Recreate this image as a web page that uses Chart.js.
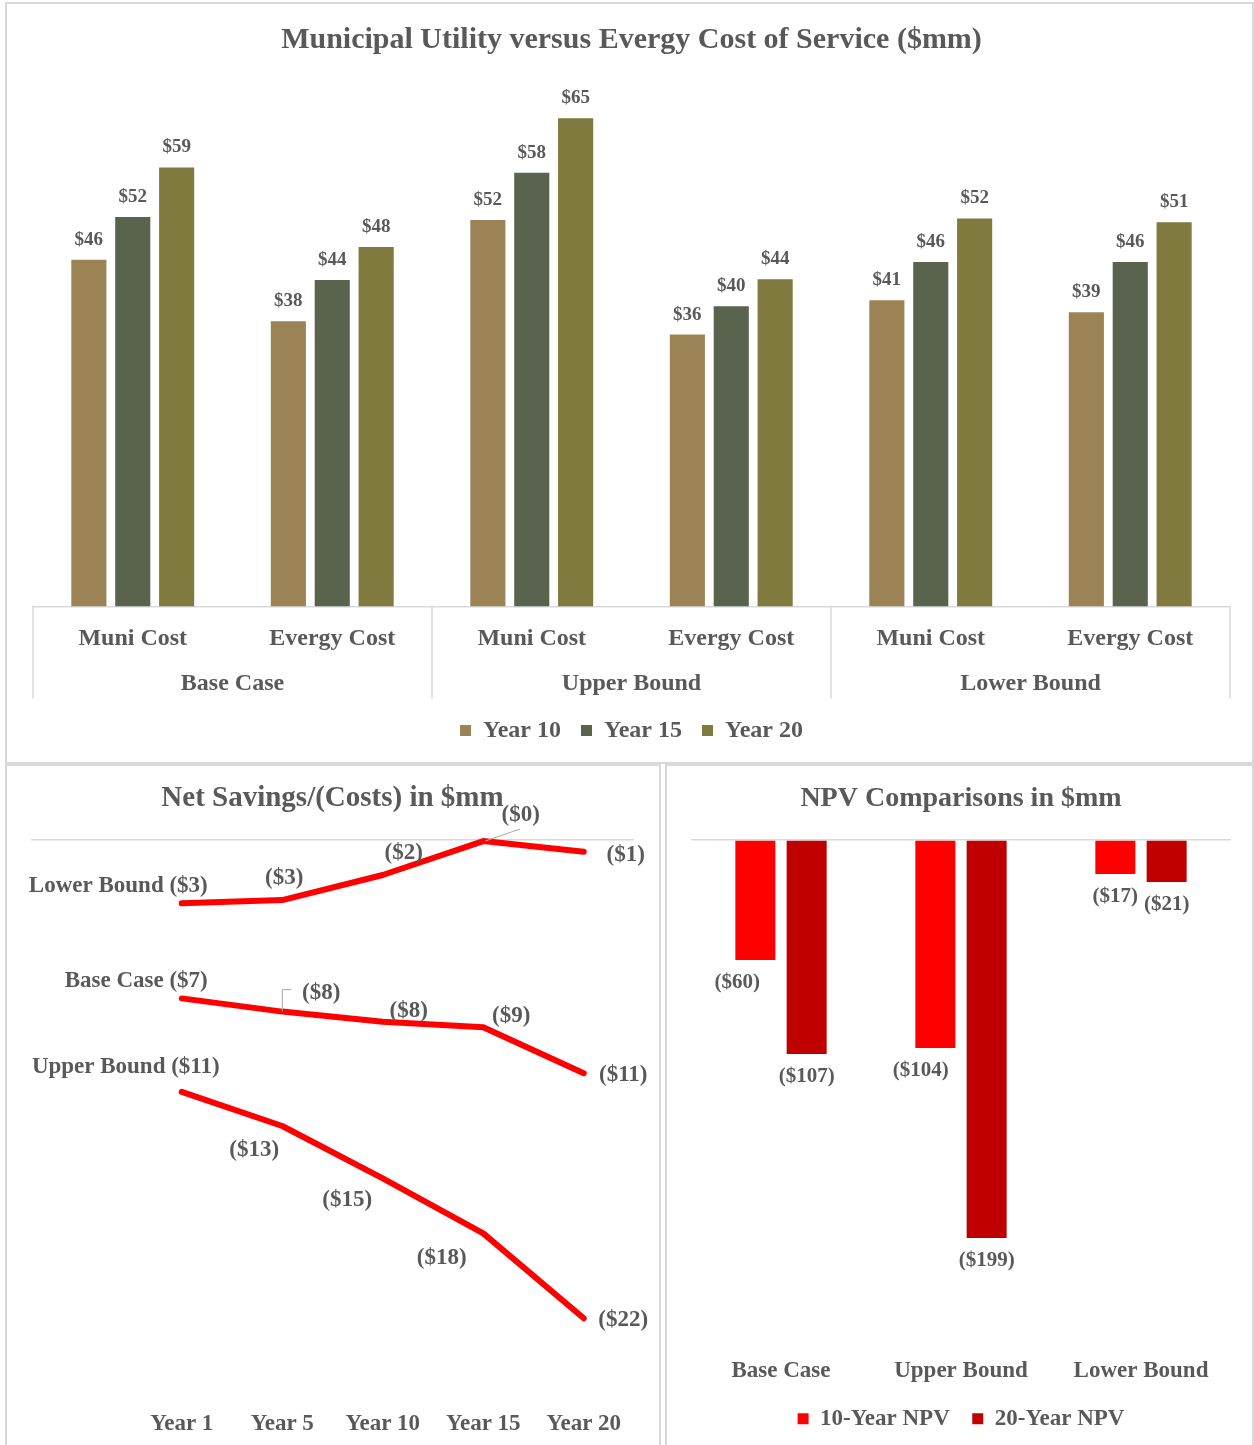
<!DOCTYPE html>
<html><head><meta charset="utf-8">
<script src="https://cdn.jsdelivr.net/npm/chart.js@4/dist/chart.umd.min.js"></script>
<style>
html,body{margin:0;padding:0;background:#fff;width:1254px;height:1445px;overflow:hidden;}
.panel{position:absolute;border:2px solid #d9d9d9;box-sizing:border-box;}
.wrap{position:absolute;}
</style></head><body>
<div class="panel" style="left:5px;top:2px;width:1249px;height:762px"></div>
<div class="panel" style="left:5px;top:764px;width:656px;height:700px"></div>
<div class="panel" style="left:665px;top:764px;width:589px;height:700px"></div>
<div class="wrap" style="left:8px;top:5px;width:1244px;height:757px"><canvas id="c1"></canvas></div>
<div class="wrap" style="left:8px;top:766px;width:651px;height:679px"><canvas id="c2"></canvas></div>
<div class="wrap" style="left:668px;top:766px;width:584px;height:679px"><canvas id="c3"></canvas></div>
<script>
// ---------- DATA ----------
const costCategories = ['Muni Cost','Evergy Cost','Muni Cost','Evergy Cost','Muni Cost','Evergy Cost'];
const scenarioGroups = ['Base Case','Upper Bound','Lower Bound'];
const costSeriesNames = ['Year 10','Year 15','Year 20'];
const year10Cost = [46.3, 38.1, 51.6, 36.3, 40.9, 39.3];
const year15Cost = [52.0, 43.6, 57.9, 40.1, 46.0, 46.0];
const year20Cost = [58.6, 48.0, 65.2, 43.7, 51.8, 51.3];

const savingsYears = ['', 'Year 1', 'Year 5', 'Year 10', 'Year 15', 'Year 20'];
const savingsSeriesNames = ['Lower Bound', 'Base Case', 'Upper Bound'];
const lowerBoundSavings = [null, -2.88, -2.73, -1.59, -0.05, -0.53];
const baseCaseSavings   = [null, -7.2, -7.8, -8.26, -8.51, -10.6];
const upperBoundSavings = [null, -11.45, -13.0, -15.38, -17.88, -21.74];

const npvCategories = ['Base Case', 'Upper Bound', 'Lower Bound'];
const npvSeriesNames = ['10-Year NPV', '20-Year NPV'];
const npv10Year = [-60, -104, -17];
const npv20Year = [-107, -199, -21];

// ---------- STYLE ----------
const FONT = "'Liberation Serif', 'DejaVu Serif', serif";
const TEXT = '#595959';
const RULE = '#d9d9d9';
const CLEAR = 'rgba(0,0,0,0)';
const costColors = ['#9B8356', '#5A634E', '#807A3E'];
const npvColors = ['#FF0000', '#C00000'];
// label placement relative to each point (styling only)
const lowerLabelStyle = [null, {dx:26,dy:-17.5,align:'right',name:true}, {dx:2,dy:-22}, {dx:21,dy:-22}, {dx:37.5,dy:-26,leader:'line'}, {dx:42,dy:3}];
const baseLabelStyle  = [null, {dx:26,dy:-17.5,align:'right',name:true}, {dx:39,dy:-19,leader:'elbow'}, {dx:26,dy:-11}, {dx:28,dy:-11}, {dx:39.5,dy:2}];
const upperLabelStyle = [null, {dx:38,dy:-25,align:'right',name:true}, {dx:-28,dy:24}, {dx:-35.5,dy:22}, {dx:-41.6,dy:25}, {dx:39.5,dy:2}];
const npvLabelShift = [[-18, -14.5, 0], [0, 0, 0]];

Chart.defaults.font.family = FONT;
Chart.defaults.font.weight = 'bold';
Chart.defaults.color = TEXT;
Chart.defaults.animation = false;

function fmtMoney(v){ return v < 0 ? '($' + Math.round(-v) + ')' : '$' + Math.round(v); }
function spacerGrid(len){ return { display: true, drawOnChartArea: false, drawTicks: true, tickLength: len, color: CLEAR }; }

// ---------- CHART 1 ----------
const costLabelPlugin = {
  id: 'costLabels',
  afterDatasetsDraw(chart){
    const ctx = chart.ctx; ctx.save();
    ctx.font = 'bold 19px ' + FONT; ctx.fillStyle = TEXT;
    ctx.textAlign = 'center'; ctx.textBaseline = 'middle';
    chart.data.datasets.forEach((ds, di) => {
      chart.getDatasetMeta(di).data.forEach((el, i) => {
        ctx.fillText(fmtMoney(ds.data[i]), el.x, el.y - 20);
      });
    });
    ctx.restore();
  }
};
const groupSeparatorPlugin = {
  id: 'groupSeparators',
  afterDraw(chart){
    const x = chart.scales.x, x2 = chart.scales.x2;
    const half = (x.getPixelForValue(1) - x.getPixelForValue(0)) / 2;
    const ctx = chart.ctx; ctx.save();
    ctx.strokeStyle = RULE; ctx.lineWidth = 1.5;
    for (let g = 0; g <= scenarioGroups.length; g++) {
      const px = g < scenarioGroups.length ? x.getPixelForValue(g * 2) - half : x.getPixelForValue(g * 2 - 1) + half;
      ctx.beginPath(); ctx.moveTo(px, chart.chartArea.bottom); ctx.lineTo(px, x2.bottom); ctx.stroke();
    }
    ctx.restore();
  }
};
new Chart(document.getElementById('c1'), {
  type: 'bar',
  data: {
    labels: costCategories,
    datasets: [year10Cost, year15Cost, year20Cost].map((d, i) => ({
      label: costSeriesNames[i], data: d, backgroundColor: costColors[i],
      barPercentage: 0.8, categoryPercentage: 0.66
    }))
  },
  options: {
    responsive: true, maintainAspectRatio: false,
    layout: { padding: { left: 25, right: 22, top: 0, bottom: 9.6 } },
    plugins: {
      title: { display: true, text: 'Municipal Utility versus Evergy Cost of Service ($mm)',
        font: { size: 30, weight: 'bold' }, color: TEXT, padding: { top: 17, bottom: 24.2 } },
      legend: { position: 'bottom', labels: { boxWidth: 11, boxHeight: 11, padding: 20,
        font: { size: 24, weight: 'bold' }, color: TEXT } },
      tooltip: { enabled: false }
    },
    scales: {
      x: { offset: true, grid: spacerGrid(18.1),
        border: { display: true, color: RULE, width: 1.5 },
        ticks: { padding: 0, font: { size: 24, weight: 'bold' }, color: TEXT, maxRotation: 0 } },
      x2: { type: 'category', labels: scenarioGroups, position: 'bottom', offset: true,
        grid: spacerGrid(16.2), border: { display: false },
        ticks: { padding: 0, font: { size: 24, weight: 'bold' }, color: TEXT, maxRotation: 0 } },
      y: { display: false, min: 0, max: 70 }
    }
  },
  plugins: [costLabelPlugin, groupSeparatorPlugin]
});

// ---------- CHART 2 ----------
const lineLabelPlugin = {
  id: 'lineLabels',
  afterDatasetsDraw(chart){
    const ctx = chart.ctx; ctx.save();
    ctx.font = 'bold 23px ' + FONT; ctx.fillStyle = TEXT; ctx.textBaseline = 'middle';
    chart.data.datasets.forEach((ds, di) => {
      const styles = ds.labelStyles;
      chart.getDatasetMeta(di).data.forEach((pt, i) => {
        const v = ds.data[i], st = styles[i];
        if (v == null || !st) return;
        let text = fmtMoney(v);
        if (st.name) text = ds.label + ' ' + text;
        const cx = pt.x + st.dx, cy = pt.y + st.dy;
        ctx.textAlign = st.align || 'center';
        ctx.fillText(text, cx, cy);
        if (st.leader) {
          ctx.strokeStyle = '#a6a6a6'; ctx.lineWidth = 1;
          ctx.beginPath();
          if (st.leader === 'line') { ctx.moveTo(pt.x + 2, pt.y); ctx.lineTo(cx - 1, cy + 14); }
          else { ctx.moveTo(pt.x, pt.y); ctx.lineTo(pt.x, cy - 3); ctx.lineTo(pt.x + 9, cy - 3); }
          ctx.stroke();
        }
      });
    });
    ctx.restore();
  }
};
new Chart(document.getElementById('c2'), {
  type: 'line',
  data: {
    labels: savingsYears,
    datasets: [lowerBoundSavings, baseCaseSavings, upperBoundSavings].map((d, i) => ({
      label: savingsSeriesNames[i], data: d, borderColor: '#FF0000', backgroundColor: '#FF0000',
      borderWidth: 6, pointRadius: 0, tension: 0, borderCapStyle: 'round', borderJoinStyle: 'round',
      clip: false, labelStyles: [lowerLabelStyle, baseLabelStyle, upperLabelStyle][i]
    }))
  },
  options: {
    responsive: true, maintainAspectRatio: false,
    layout: { padding: { left: 23, right: 25, top: 0, bottom: 7.2 } },
    plugins: {
      title: { display: true, text: 'Net Savings/(Costs) in $mm',
        font: { size: 29, weight: 'bold' }, color: TEXT, padding: { top: 15.6, bottom: 23.6 } },
      legend: { display: false }, tooltip: { enabled: false }
    },
    scales: {
      x: { offset: true, grid: spacerGrid(20.2), border: { display: false },
        ticks: { padding: 0, font: { size: 23, weight: 'bold' }, color: TEXT, maxRotation: 0, autoSkip: false } },
      y: { min: -25, max: 0, ticks: { display: false }, border: { display: false },
        grid: { drawTicks: false, lineWidth: 1.5,
          color: c => (c.tick && c.tick.value === 0) ? RULE : CLEAR } }
    }
  },
  plugins: [lineLabelPlugin]
});

// ---------- CHART 3 ----------
const npvLabelPlugin = {
  id: 'npvLabels',
  afterDatasetsDraw(chart){
    const ctx = chart.ctx; ctx.save();
    ctx.font = 'bold 21px ' + FONT; ctx.fillStyle = TEXT;
    ctx.textAlign = 'center'; ctx.textBaseline = 'middle';
    chart.data.datasets.forEach((ds, di) => {
      chart.getDatasetMeta(di).data.forEach((el, i) => {
        ctx.fillText(fmtMoney(ds.data[i]), el.x + npvLabelShift[di][i], el.y + 23);
      });
    });
    ctx.restore();
  }
};
new Chart(document.getElementById('c3'), {
  type: 'bar',
  data: {
    labels: npvCategories,
    datasets: [npv10Year, npv20Year].map((d, i) => ({
      label: npvSeriesNames[i], data: d, backgroundColor: npvColors[i],
      barPercentage: 0.78, categoryPercentage: 0.57
    }))
  },
  options: {
    responsive: true, maintainAspectRatio: false,
    layout: { padding: { left: 23, right: 21, top: 0, bottom: 4.7 } },
    plugins: {
      title: { display: true, text: 'NPV Comparisons in $mm',
        font: { size: 28, weight: 'bold' }, color: TEXT, padding: { top: 16.2, bottom: 24.2 } },
      legend: { position: 'bottom', labels: { boxWidth: 11, boxHeight: 11, padding: 22.5,
        font: { size: 23, weight: 'bold' }, color: TEXT } },
      tooltip: { enabled: false }
    },
    scales: {
      x: { offset: true, grid: spacerGrid(17.2), border: { display: false },
        ticks: { padding: 0, font: { size: 23, weight: 'bold' }, color: TEXT, maxRotation: 0 } },
      y: { min: -250, max: 0, ticks: { display: false }, border: { display: false },
        grid: { drawTicks: false, lineWidth: 1.5,
          color: c => (c.tick && c.tick.value === 0) ? RULE : CLEAR } }
    }
  },
  plugins: [npvLabelPlugin]
});
</script>
</body></html>
